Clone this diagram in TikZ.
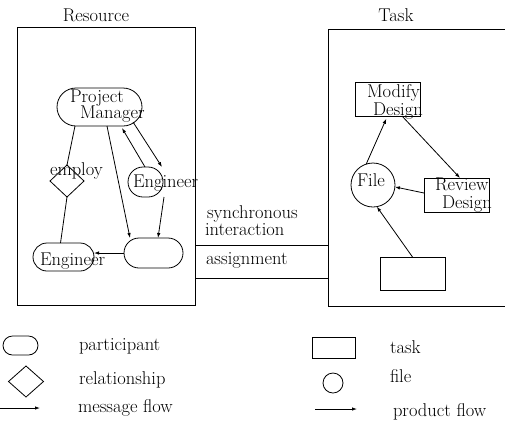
\documentclass[tikz,border=0pt]{standalone}
\usepackage{fontspec}
\usetikzlibrary{shapes.geometric,arrows.meta,calc}

\tikzset{
  every node/.style={font=\fontsize{18.5}{15}\selectfont, inner sep=0pt, outer sep=0pt},
  txt/.style={anchor=base west},
  ctxt/.style={anchor=center},
  participant/.style={draw, rectangle, rounded corners=#1, minimum height=2*#1},
  relation/.style={draw, diamond, aspect=1},
  taskbox/.style={draw, rectangle},
  filenode/.style={draw, circle},
  flow/.style={-{Latex[length=5pt,width=3.5pt]}},
  link/.style={},
}

\begin{document}
\begin{tikzpicture}[x=1pt, y=-1pt, line width=0.8pt]
\useasboundingbox (0,0) rectangle (505,421);

% ---- resource pane ----
\node[draw, minimum width=178, minimum height=278] (res) at (106,166) {};
\node[ctxt] (resT) at (96,15) {Resource};

\node[participant=19, minimum width=85] (pm) at (99.5,107) {};
\node[txt] (pmA) at (70,102) {Project};
\node[txt] (pmB) at (80,118.5) {Manager};

\node[relation, minimum width=34, minimum height=32] (emp) at (67,181) {};
\node[txt] (empT) at (50,175) {employ};

\node[participant=15, minimum width=35] (eng1) at (145.5,182) {};
\node[txt] (eng1T) at (133,187) {Engineer};

\node[participant=15, minimum width=59] (blank) at (153.5,253) {};

\node[participant=14, minimum width=61] (eng2) at (63.5,257) {};
\node[txt] (eng2T) at (40,265) {Engineer};

\draw[link] ([xshift=-24.5]pm.south) -- (emp.north);
\draw[link] (emp.south) -- ([xshift=-3]eng2.north);
\draw[flow] ([xshift=7.5]pm.south) -- ([xshift=-23.5]blank.north);
\draw[flow] ([xshift=-0.5]eng1.north) -- ([xshift=22.5,yshift=-2]pm.south);
\draw[flow] ([xshift=-9,yshift=4]pm.south east) -- ([xshift=-1]eng1.north east);
\draw[flow] ([xshift=1]eng1.south east) -- ([xshift=4.5]blank.north);
\draw[flow] (blank.west) -- ([yshift=4]eng2.east);

% ---- task pane (open on the right) ----
\node[minimum width=180, minimum height=277, anchor=north west] (task) at (328,29) {};
\draw (task.north east) -- (task.north west) -- (task.south west) -- (task.south east);
\node[ctxt] (taskT) at (396,15) {Task};

\node[taskbox, minimum width=65, minimum height=34] (md) at (387.5,99) {};
\node[txt] (mdA) at (367,97.5) {Modify};
\node[txt] (mdB) at (373,115.5) {Design};

\node[filenode, minimum size=44] (file) at (373,185) {};
\node[ctxt] (fileT) at (371,180) {File};

\node[taskbox, minimum width=65, minimum height=34] (rd) at (456.5,195) {};
\node[txt] (rdA) at (435,190.5) {Review};
\node[txt] (rdB) at (442,208.5) {Design};

\node[taskbox, minimum width=65, minimum height=33] (tb) at (412.5,273.5) {};

\draw[flow, shorten >=3pt] (file.108) -- (md.south);
\draw[flow] ([xshift=14.5]md.south) -- ([xshift=3.5]rd.north);
\draw[flow] ([yshift=2]rd.west) -- (file.-5);
\draw[flow] (tb.north) -- (file.-80);

% ---- links between the panes ----
\draw (res.east |- 0,245) -- (task.west |- 0,245);
\draw (res.east |- 0,278) -- (task.west |- 0,278);
\node[txt] (syA) at (207,218) {synchronous};
\node[txt] (syB) at (205,235.5) {interaction};
\node[txt] (asg) at (206,264) {assignment};

% ---- legend ----
\node[participant=9.5, minimum width=35] (lp) at (20.5,345.5) {};
\node[txt] (lpT) at (79,350) {participant};
\node[relation, minimum width=35, minimum height=31] (ld) at (26,381.5) {};
\node[txt] (ldT) at (79,384) {relationship};
\coordinate (lmA) at (0,408);
\coordinate (lmB) at (40,408);
\draw[flow] (lmA) -- (lmB);
\node[txt] (lmT) at (78,412) {message flow};

\node[taskbox, minimum width=43, minimum height=21] (lt) at (333.5,347.5) {};
\node[txt] (ltT) at (390,353) {task};
\node[filenode, minimum size=20] (lf) at (333,383) {};
\node[txt] (lfT) at (390,382) {file};
\coordinate (lpA) at (315,409);
\coordinate (lpB) at (357,409);
\draw[flow] (lpA) -- (lpB);
\node[txt] (lpfT) at (393,416) {product flow};
\end{tikzpicture}
\end{document}
